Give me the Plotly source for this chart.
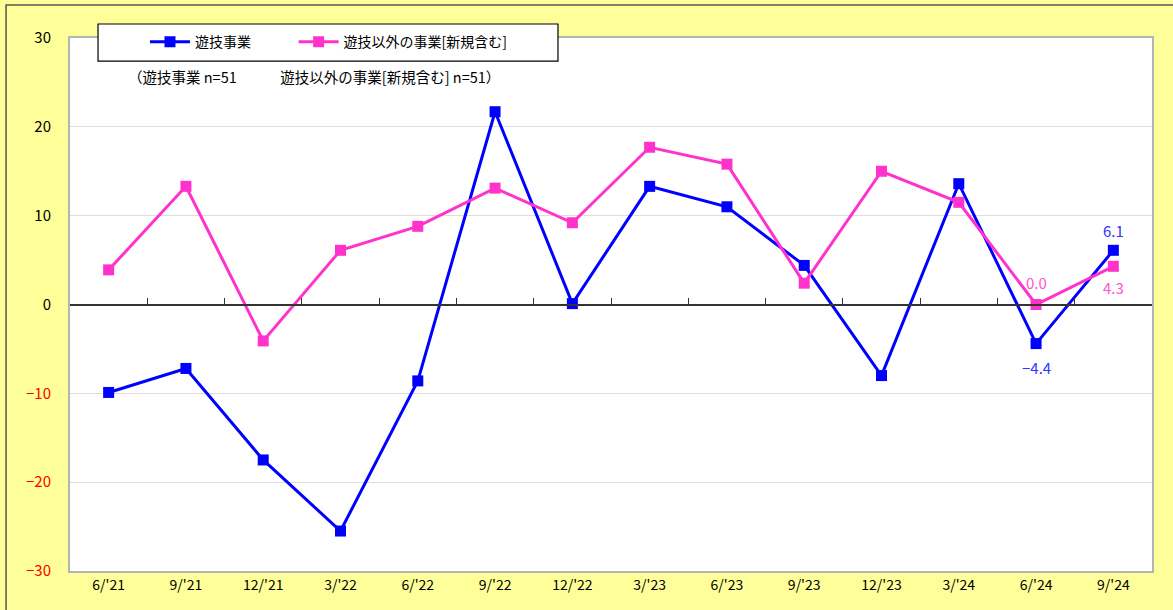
import plotly.graph_objects as go

categories = ["6/'21", "9/'21", "12/'21", "3/'22", "6/'22", "9/'22", "12/'22",
              "3/'23", "6/'23", "9/'23", "12/'23", "3/'24", "6/'24", "9/'24"]
amusement = [-9.9, -7.2, -17.5, -25.5, -8.6, 21.7, 0.1, 13.3, 11.0, 4.4, -8.0, 13.6, -4.4, 6.1]
other = [3.9, 13.3, -4.1, 6.1, 8.8, 13.1, 9.2, 17.7, 15.8, 2.4, 15.0, 11.5, 0.0, 4.3]
y_ticks = [30, 20, 10, 0, -10, -20, -30]

FONT = "Noto Sans CJK JP"
xs = list(range(len(categories)))
n = len(categories)

def fmt(v):
    return ("−" if v < 0 else "") + f"{abs(v):.1f}"

fig = go.Figure()
fig.add_trace(go.Scatter(
    x=xs, y=amusement, name="遊技事業" + "\u00a0" * 12, mode="lines+markers",
    line=dict(color="#0000ff", width=3),
    marker=dict(symbol="square", size=11, color="#0000ff"),
))
fig.add_trace(go.Scatter(
    x=xs, y=other, name="遊技以外の事業[新規含む]", mode="lines+markers",
    line=dict(color="#ff33cc", width=3),
    marker=dict(symbol="square", size=11, color="#ff33cc"),
))
# invisible trace to activate secondary x-axis drawn along the zero line
fig.add_trace(go.Scatter(x=[xs[0]], y=[0], xaxis="x2", mode="markers",
                         marker=dict(opacity=0), showlegend=False, hoverinfo="skip"))

# data labels for the latest two periods
label_specs = [
    (amusement, n - 2, -24, "#3333ff"),
    (amusement, n - 1, 20, "#3333ff"),
    (other, n - 2, 22, "#ff55cc"),
    (other, n - 1, -21, "#ff55cc"),
]
annotations = [dict(x=xs[i], y=vals[i], xref="x", yref="y", text=fmt(vals[i]),
                    showarrow=False, yshift=dy, font=dict(size=15, color=c, family=FONT))
               for vals, i, dy, c in label_specs]
annotations.append(dict(xref="paper", yref="paper", x=0.0518, y=0.927, xanchor="left",
                        yanchor="middle", showarrow=False,
                        text="（遊技事業 n=51　　　遊技以外の事業[新規含む] n=51）",
                        font=dict(size=14.5, family=FONT)))

ticktext = [f"<span style='color:{'#ff0000' if v < 0 else '#000000'}'>{'−' + str(-v) if v < 0 else v}</span>"
            for v in y_ticks]

fig.update_layout(
    width=1173, height=610,
    margin=dict(l=70, r=21, t=38, b=39),
    paper_bgcolor="#ffff99", plot_bgcolor="white",
    font=dict(family=FONT, size=13, color="#000000"),
    showlegend=True,
    legend=dict(orientation="h", x=0.0693, y=0.992, xanchor="left", yanchor="middle",
                bgcolor="rgba(0,0,0,0)", borderwidth=0,
                font=dict(size=14, family=FONT), itemwidth=40),
    xaxis=dict(range=[-0.5, n - 0.5], tickvals=xs, ticktext=categories,
               showgrid=False, zeroline=False, showline=True, mirror=True,
               linecolor="#b4b4b4", linewidth=2, ticks="", tickfont=dict(size=14),
               automargin=False),
    xaxis2=dict(range=[-0.5, n - 0.5], overlaying="x", anchor="free", position=0.5,
                side="top", tickvals=[i + 0.5 for i in xs[:-1]], ticks="outside",
                ticklen=6, tickcolor="#333333", showticklabels=False, showline=True,
                linecolor="#333333", linewidth=1.5, showgrid=False, zeroline=False,
                automargin=False),
    yaxis=dict(range=[-30, 30], tickvals=y_ticks, ticktext=ticktext,
               showgrid=True, gridcolor="#dddddd", gridwidth=1, zeroline=False,
               showline=True, mirror=True, linecolor="#b4b4b4", linewidth=2,
               ticks="", ticklabelstandoff=14, tickfont=dict(size=15), automargin=False),
    shapes=[
        dict(type="rect", xref="paper", yref="paper", x0=0.0259, x1=0.451,
             y0=0.9568, y1=1.0263, fillcolor="white",
             line=dict(color="#000000", width=1.2), layer="above"),
        dict(type="rect", xref="paper", yref="paper", x0=-0.0591, x1=1.05,
             y0=-0.12, y1=1.0619, fillcolor="rgba(0,0,0,0)",
             line=dict(color="#555555", width=1.5), layer="above"),
    ],
    annotations=annotations,
)

fig.write_html("out.html", config={"displayModeBar": False},
               post_script="document.body.style.margin='0';document.body.style.padding='0';")
